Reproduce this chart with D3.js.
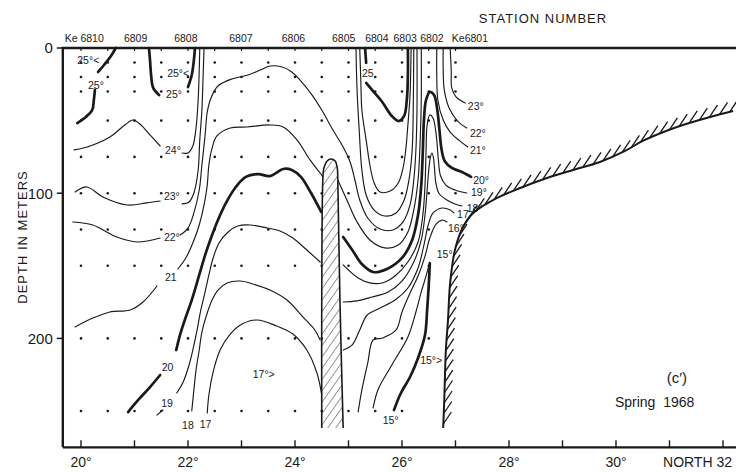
<!DOCTYPE html>
<html><head><meta charset="utf-8">
<script src="https://cdn.jsdelivr.net/npm/d3@7"></script>
<style>
html,body{margin:0;padding:0;background:#fff;}
svg{display:block;}
text{font-family:"Liberation Sans",Arial,sans-serif;fill:#1a1a1a;}
</style>
</head><body>
<svg id="chart" width="736" height="472"></svg>
<script>
// ---------------- DATA ----------------
const stationNames = ["Ke 6810","6809","6808","6807","6806","6805","6804","6803","6802","Ke6801"];
const stationLats  = [20.06,21.02,21.96,22.99,23.97,24.91,25.53,26.06,26.56,27.27];
const castLats     = [20,20.5,21,21.5,22,22.5,23,23.5,24,24.5,25,25.5,26,26.5,27];
const castMaxDepth = [250,250,250,250,250,250,250,250,250,250,250,250,250,200,100];
const standardDepths = [10,20,30,50,75,100,125,150,200,250];
const depthTicks = [0,100,200];
const latTicks = [20,21,22,23,24,25,26,27,28,29,30,31,32];
const latTickLabels = ["20°","","22°","","24°","","26°","","28°","","30°","","NORTH 32"];

// isotherm segments: [latitude (°N), depth (m)]
const c25w1 = [[20.65,0],[20.56,5.5],[20.43,11.7],[20.32,16.5]];
const c25w2 = [[20.26,28.9],[20.24,35.8],[20.21,42.7],[20.09,47.5],[19.93,51.7]];
const c25m1 = [[21.27,0],[21.29,8.3],[21.31,18.6],[21.35,27.5],[21.46,32.4]];
const c25m2 = [[22.13,0],[22.11,8.3],[22.07,18.6],[22.00,26.9]];
const c25t1 = [[25.31,0],[25.33,10.3]];
const c25t2 = [[25.33,24.1],[25.44,28.9],[25.63,37.2],[25.81,46.8],[25.94,50.3],[26.04,46.8],[26.09,35.8],[26.11,18.6],[26.11,0]];
const c24a = [[19.87,70.2],[20.17,67.5],[20.54,61.3],[20.82,53],[20.97,49.6],[21.10,52.3],[21.29,59.9],[21.48,67.5]];
const c24b = [[21.89,72.3],[22.00,72.3],[22.09,67.5],[22.15,55.1],[22.19,35.8],[22.21,15.2],[22.22,0]];
const c24t = [[25.21,0],[25.23,22],[25.25,42.7],[25.33,63.4],[25.40,80.6],[25.48,93],[25.59,99.2],[25.78,98.5],[25.93,93],[26.02,82.6],[26.07,70.2],[26.11,53],[26.15,32.4],[26.17,0]];
const c23a = [[19.89,99.2],[20.11,95.7],[20.41,102.6],[20.86,108.1],[21.23,106.7],[21.48,105.4]];
const c23b = [[21.89,107.4],[22.02,106.1],[22.11,99.9],[22.19,84],[22.22,63.4],[22.26,42.7],[22.28,22],[22.30,0]];
const c23t = [[25.14,0],[25.16,28.9],[25.20,56.5],[25.25,84],[25.33,101.2],[25.48,111.6],[25.68,115.7],[25.89,113.6],[26.04,104.7],[26.13,90.9],[26.19,70.2],[26.21,42.7],[26.22,0]];
const c23R = [[26.90,0],[26.92,15.2],[26.93,27.5],[27.01,33.7],[27.18,37.9]];
const c22a = [[19.85,119.8],[20.22,121.9],[20.67,130.2],[21.05,133.6],[21.48,130.9]];
const c22b = [[21.85,128.8],[22.00,124],[22.11,113.6],[22.21,97.8],[22.26,80.6],[22.32,59.9],[22.36,44.1],[22.43,34.4],[22.56,26.2],[22.82,21.3],[23.12,18.6],[23.35,15.2],[23.53,12.4],[23.76,13.1],[23.94,16.5],[24.09,22],[24.32,32.4],[24.50,42.7],[24.71,56.5],[24.90,68.2],[25.03,78.5],[25.12,90.9],[25.21,104.7],[25.36,117.1],[25.59,124.7],[25.83,125.3],[26.02,119.8],[26.15,108.1],[26.22,90.9],[26.26,70.2],[26.28,42.7],[26.28,0]];
const c22R = [[26.77,0],[26.77,15.2],[26.79,28.9],[26.88,41.3],[27.04,50.3],[27.21,55.1]];
const c21a = [[19.89,192.1],[20.22,186],[20.54,181.8],[20.92,180.4],[21.16,174.9],[21.42,163.9]];
const c21b = [[21.81,152.2],[21.96,144.6],[22.09,134.3],[22.21,121.9],[22.30,108.1],[22.36,94.4],[22.39,80.6],[22.45,68.9],[22.54,60.6],[22.79,55.1],[23.10,54.4],[23.53,53],[23.78,54.4],[24.04,63.4],[24.28,77.1],[24.47,86.1],[24.52,88.8]];
const c21c = [[24.80,90.9],[24.97,104.7],[25.16,119.8],[25.40,132.2],[25.68,137.7],[25.93,135.7],[26.11,126.7],[26.22,111.6],[26.30,90.9],[26.34,63.4],[26.36,35.8],[26.36,0]];
const c21R = [[26.65,0],[26.65,18.6],[26.67,35.8],[26.77,49.6],[26.90,57.9],[27.08,64],[27.23,68.2]];
const c20a = [[20.88,250.7],[21.07,242.4],[21.29,233.5],[21.48,225.2]];
const c20b = [[21.78,208],[21.85,197.7],[21.94,187.3],[22.07,173.6],[22.21,156.3],[22.32,142.6],[22.43,130.9],[22.56,118.5],[22.71,106.7],[22.88,96.4],[23.08,88.8],[23.31,86.8],[23.53,88.2],[23.78,83.3],[23.94,84],[24.11,88.8],[24.30,99.9],[24.49,112.9]];
const c20c = [[24.90,130.2],[25.07,139.1],[25.25,148.8],[25.46,154.3],[25.72,152.2],[26.00,144.6],[26.19,132.2],[26.30,115],[26.36,94.4],[26.39,70.2],[26.41,49.6],[26.45,35.8],[26.52,30.3],[26.60,32.4],[26.66,42.7],[26.70,56.5],[26.74,70],[26.80,78],[26.93,82.6],[27.12,85.4],[27.29,88.8]];
const c19a = [[21.79,237.6],[21.91,230],[22.02,218.3],[22.09,208],[22.17,194.2],[22.24,180.4],[22.32,168],[22.39,156.3],[22.47,144.6],[22.58,134.3],[22.75,126.7],[22.93,122.6],[23.16,121.9],[23.48,124],[23.72,126],[23.96,130.9],[24.22,139.1],[24.47,147.4]];
const c19tail = [[21.42,252.8],[21.53,249.3]];
const c19R = [[24.90,149.4],[25.18,158.4],[25.40,161.8],[25.63,161.8],[25.87,157],[26.11,147.4],[26.30,133.6],[26.39,115],[26.43,94.4],[26.45,70.2],[26.47,53],[26.52,46.1],[26.58,48.2],[26.64,60],[26.68,77],[26.72,88],[26.82,94.4],[26.99,97.8],[27.21,99.9]];
const c18a = [[22.07,250],[22.11,235.5],[22.15,221.8],[22.21,208],[22.26,195.6],[22.36,182.5],[22.45,173.6],[22.56,166.7],[22.73,161.8],[22.97,160.5],[23.21,162.5],[23.53,166.7],[23.85,173.6],[24.15,185.3],[24.37,194.2],[24.47,201.1]];
const c18R = [[24.90,174.9],[25.16,174.2],[25.44,171.5],[25.74,168],[26.00,160.5],[26.22,147.4],[26.36,132.2],[26.43,115],[26.47,97.8],[26.50,84],[26.53,75.5],[26.56,72.3],[26.59,76],[26.61,84],[26.63,92.3],[26.69,100],[26.84,104.7],[26.99,107.4],[27.12,108.8]];
const c17a = [[22.36,251.4],[22.39,239],[22.47,223.1],[22.60,208],[22.79,197],[23.01,190.1],[23.29,187.3],[23.66,191.5],[23.96,197],[24.22,208],[24.41,223.8],[24.50,239]];
const c17R = [[24.90,208],[25.07,204.5],[25.21,194.2],[25.35,183.9],[25.59,179.1],[25.87,173.6],[26.11,165.3],[26.30,151.5],[26.41,135.7],[26.49,121.9],[26.58,113.6],[26.75,110.2],[26.90,111.6],[26.97,113.6]];
const c16  = [[25.18,250.7],[25.25,235.5],[25.36,216.9],[25.46,201.1],[25.64,199.7],[25.89,194.2],[26.00,181.8],[26.15,168.7],[26.30,157],[26.43,143.3],[26.52,130.9],[26.64,121.2],[26.75,118.5],[26.84,119.8]];
const c16b = [[25.46,247.9],[25.55,235.5],[25.81,218.3],[26.11,199],[26.26,181.8],[26.36,168],[26.45,157],[26.50,150.1]];
const c15  = [[26.52,148.1],[26.50,163.2],[26.47,180.4],[26.43,197.7],[26.30,213.5],[26.15,226.6],[25.98,237.6],[25.85,249.3]];

const isotherms = [c25w1,c25w2,c25m1,c25m2,c25t1,c25t2,c24a,c24b,c24t,c23a,c23b,c23t,c23R,c22a,c22b,c22R,c21a,c21b,c21c,c21R,c20a,c20b,c20c,c19a,c19tail,c19R,c18a,c18R,c17a,c17R,c16,c16b,c15];
const isothermLevels = [25,25,25,25,25,25,24,24,24,23,23,23,23,22,22,22,21,21,21,21,20,20,20,19,19,19,18,18,17,17,16,16,15];

// no-data column and sea-bottom profile
const gapColumn = [[24.50,261.7],[24.50,173.6],[24.52,90.9],[24.54,82.6],[24.60,77.8],[24.67,76.4],[24.75,77.8],[24.79,82.6],[24.80,90.9],[24.84,173.6],[24.90,261.7]];
const seaBottom = [[26.77,261.7],[26.79,242.4],[26.82,208],[26.86,187.3],[26.90,161.8],[26.99,139.1],[27.14,123.3],[27.33,113.6],[27.70,104.7],[28.21,96.4],[28.71,89.5],[29.20,84],[29.70,78.5],[30.17,70.9],[30.50,64],[31.14,54.4],[31.76,47.5],[32.19,43.4]];

// isotherm labels: [text, lat, depth]
const labelTexts = ["25°<","25°","25°<","25°","24°","23°","22°","21","20","19","18","17","17°>","25","23°","22°","21°","20°","19°","18°","17","16°","15°","15°>","15°"];
const labelLats  = [19.93,20.13,21.61,21.59,21.57,21.55,21.55,21.57,21.51,21.50,21.89,22.22,23.21,25.25,27.23,27.27,27.27,27.33,27.29,27.21,27.03,26.86,26.65,26.34,25.64];
const labelDepths= [11.0,28.2,20.0,34.4,73.0,104.7,132.9,160.5,222.5,247.2,262.4,261.7,227.3,20.0,42.7,61.3,73.0,93.7,101.9,112.9,117.1,126.7,144.6,217.6,259];

// ---------------- DRAW ----------------
const W = 736, H = 472;
const LAT_LEFT = 19.66, LAT_RIGHT = 32.3, DEPTH_BOTTOM = 275;
const x = d3.scaleLinear().domain([20,32]).range([81,723]);
const y = d3.scaleLinear().domain([0,250]).range([48,411]);
const svg = d3.select("#chart");
const ink = "#1a1a1a";

svg.append("rect").attr("width",W).attr("height",H).attr("fill","#fff");

const defs = svg.append("defs");
const pat = defs.append("pattern").attr("id","hatch").attr("patternUnits","userSpaceOnUse")
  .attr("width",6.5).attr("height",6.5).attr("patternTransform","rotate(35)");
pat.append("line").attr("x1",0).attr("y1",0).attr("x2",0).attr("y2",6.5)
  .attr("stroke",ink).attr("stroke-width",0.9);

const line = d3.line().x(d=>x(d[0])).y(d=>y(d[1])).curve(d3.curveCatmullRom.alpha(0.5));

// station dots
const dots = [];
castLats.forEach((lt,i)=>standardDepths.forEach(dp=>{ if(dp<=castMaxDepth[i]) dots.push([lt,dp]); }));
svg.append("g").selectAll("circle").data(dots).join("circle")
  .attr("cx",d=>x(d[0])).attr("cy",d=>y(d[1])).attr("r",1.3).attr("fill",ink);

// isotherms
svg.append("g").selectAll("path").data(isotherms).join("path")
  .attr("d",line).attr("fill","none").attr("stroke",ink)
  .attr("stroke-linecap","round")
  .attr("stroke-width",(d,i)=>isothermLevels[i]%5===0?2.7:1.15);

// no-data column
svg.append("path").attr("d",d3.line().x(d=>x(d[0])).y(d=>y(d[1])).curve(d3.curveCatmullRom)(gapColumn))
  .attr("fill","url(#hatch)").attr("stroke",ink).attr("stroke-width",1.6);

// sea bottom with hatching
const bottomPath = svg.append("path").attr("d",line(seaBottom)).attr("fill","none")
  .attr("stroke",ink).attr("stroke-width",2);
const node = bottomPath.node(), L = node.getTotalLength();
const hatchG = svg.append("g").attr("stroke",ink).attr("stroke-width",1.3);
for(let s=4; s<L-2; s+=10.5){
  const p = node.getPointAtLength(s);
  hatchG.append("line").attr("x1",p.x).attr("y1",p.y).attr("x2",p.x+8).attr("y2",p.y-12);
}

// frame
const fx0 = x(LAT_LEFT);
svg.append("path").attr("d",`M${fx0},${y(DEPTH_BOTTOM)}V${y(0)}H${W}`).attr("fill","none")
  .attr("stroke",ink).attr("stroke-width",2.4);
svg.append("path").attr("d",`M${fx0},${y(DEPTH_BOTTOM)}H${W}`).attr("fill","none")
  .attr("stroke",ink).attr("stroke-width",2.2);

// top ticks at cast positions
svg.append("g").selectAll("line").data(castLats).join("line")
  .attr("x1",d=>x(d)).attr("x2",d=>x(d)).attr("y1",y(0)).attr("y2",y(0)+3)
  .attr("stroke",ink).attr("stroke-width",1.2);

// depth axis
svg.append("g").selectAll("line").data(depthTicks).join("line")
  .attr("x1",fx0-6).attr("x2",fx0).attr("y1",d=>y(d)).attr("y2",d=>y(d))
  .attr("stroke",ink).attr("stroke-width",1.5);
svg.append("g").selectAll("text").data(depthTicks).join("text")
  .attr("x",fx0-10).attr("y",d=>y(d)).attr("dy","0.36em").attr("text-anchor","end")
  .attr("font-size",15).text(d=>d);

// latitude axis
svg.append("g").selectAll("line").data(latTicks).join("line")
  .attr("x1",d=>x(d)).attr("x2",d=>x(d)).attr("y1",y(DEPTH_BOTTOM)).attr("y2",y(DEPTH_BOTTOM)-7)
  .attr("stroke",ink).attr("stroke-width",1.4);
svg.append("g").selectAll("text").data(latTicks).join("text")
  .attr("x",(d,i)=>i===latTicks.length-1? x(d)+9 : x(d))
  .attr("y",y(DEPTH_BOTTOM)+20)
  .attr("text-anchor",(d,i)=>i===latTicks.length-1?"end":"middle")
  .attr("font-size",14).text((d,i)=>latTickLabels[i]);

// station labels
svg.append("g").selectAll("text").data(stationNames).join("text")
  .attr("x",(d,i)=>x(stationLats[i])).attr("y",42).attr("text-anchor","middle")
  .attr("font-size",10.5).text(d=>d);

// isotherm labels
svg.append("g").selectAll("text").data(labelTexts).join("text")
  .attr("x",(d,i)=>x(labelLats[i])).attr("y",(d,i)=>y(labelDepths[i]))
  .attr("font-size",10.5).text(d=>d);

// titles
svg.append("text").attr("x",543).attr("y",23).attr("text-anchor","middle")
  .attr("font-size",13).attr("letter-spacing",1).text("STATION NUMBER");
svg.append("text").attr("transform","translate(27,237) rotate(-90)").attr("text-anchor","middle")
  .attr("font-size",13).attr("letter-spacing",1).text("DEPTH IN METERS");
svg.append("text").attr("x",x(30.95)).attr("y",y(230.7)).attr("font-size",15).text("(c′)");
svg.append("text").attr("x",x(29.98)).attr("y",y(247.2)).attr("font-size",14).attr("xml:space","preserve").text("Spring  1968");
</script>
</body></html>
